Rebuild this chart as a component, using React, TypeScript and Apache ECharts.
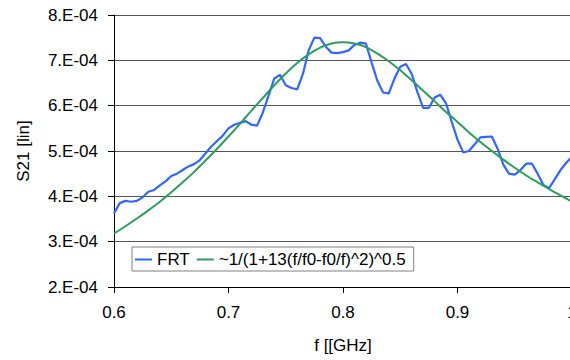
import React, { useEffect, useRef } from 'react';
import * as echarts from 'echarts';

// x sample grid (GHz)
const X_START = 0.6;
const FRT_STEP = 0.005;
const FIT_STEP = 0.01;

// S21 values, in units of 1e-4
const frtValues = [
  3.62, 3.85, 3.9, 3.88, 3.9, 3.98, 4.1, 4.14, 4.24, 4.33,
  4.45, 4.5, 4.58, 4.66, 4.71, 4.8, 4.95, 5.1, 5.22, 5.34,
  5.5, 5.58, 5.62, 5.66, 5.58, 5.56, 5.85, 6.22, 6.6, 6.68,
  6.45, 6.39, 6.36, 6.7, 7.22, 7.5, 7.49, 7.3, 7.17, 7.16,
  7.18, 7.22, 7.34, 7.39, 7.37, 6.95, 6.55, 6.29, 6.27, 6.6,
  6.86, 6.92, 6.7, 6.3, 5.95, 5.95, 6.18, 6.24, 6.05, 5.64,
  5.25, 4.97, 5.0, 5.15, 5.3, 5.31, 5.32, 5.05, 4.7, 4.5,
  4.48, 4.58, 4.72, 4.72, 4.5, 4.25, 4.18, 4.38, 4.58, 4.74,
  4.87,
];

const fitValues = [
  3.18, 3.34, 3.51, 3.69, 3.88, 4.09, 4.31, 4.54, 4.79, 5.05,
  5.32, 5.6, 5.89, 6.17, 6.45, 6.71, 6.94, 7.13, 7.28, 7.37,
  7.4, 7.37, 7.29, 7.15, 6.98, 6.78, 6.56, 6.33, 6.1, 5.86,
  5.64, 5.41, 5.2, 5.0, 4.81, 4.63, 4.46, 4.31, 4.16, 4.02,
  3.88,
];

const xTickLabels = ['0.6', '0.7', '0.8', '0.9', '1'];
const yTickLabels = ['2.E-04', '3.E-04', '4.E-04', '5.E-04', '6.E-04', '7.E-04', '8.E-04'];
const seriesNames = ['FRT', '~1/(1+13(f/f0-f0/f)^2)^0.5'];

const FONT = 'Liberation Sans, Arial, sans-serif';

export default function App() {
  const ref = useRef<HTMLDivElement>(null);

  useEffect(() => {
    const chart = echarts.init(ref.current!, null, { renderer: 'svg' });
    const frt = frtValues.map((v, i) => [+(X_START + i * FRT_STEP).toFixed(4), v]);
    const fit = fitValues.map((v, i) => [+(X_START + i * FIT_STEP).toFixed(4), v]);

    chart.setOption({
      animation: false,
      backgroundColor: '#ffffff',
      textStyle: { fontFamily: FONT, color: '#000' },
      grid: {
        left: 114,
        top: 15,
        right: -2,
        bottom: 73,
        containLabel: false,
        outerBoundsMode: 'none',
      },
      legend: {
        left: 132,
        top: 247,
        orient: 'horizontal',
        icon: 'rect',
        itemWidth: 17,
        itemHeight: 2,
        itemGap: 7,
        padding: [4, 8, 3, 3],
        borderColor: '#808080',
        borderWidth: 1,
        backgroundColor: '#ffffff',
        textStyle: { fontFamily: FONT, fontSize: 17, color: '#000' },
        data: seriesNames,
      },
      xAxis: {
        type: 'value',
        min: 0.6,
        max: 1.0,
        interval: 0.1,
        name: 'f [[GHz]',
        nameLocation: 'middle',
        nameGap: 50,
        nameTextStyle: { fontFamily: FONT, fontSize: 17, color: '#000' },
        axisLine: { show: true, lineStyle: { color: '#000', width: 1 } },
        axisTick: { show: true, length: 6, lineStyle: { color: '#000' } },
        axisLabel: {
          margin: 17,
          fontFamily: FONT,
          fontSize: 17,
          color: '#000',
          showMinLabel: true,
          showMaxLabel: true,
          formatter: (v: number) => xTickLabels[Math.round((v - 0.6) / 0.1)] ?? '',
        },
        splitLine: { show: false },
      },
      yAxis: {
        type: 'value',
        min: 2,
        max: 8,
        interval: 1,
        name: 'S21 [lin]',
        nameLocation: 'middle',
        nameRotate: 90,
        nameGap: 82,
        nameTextStyle: { fontFamily: FONT, fontSize: 17, color: '#000' },
        axisLine: { show: true, lineStyle: { color: '#000', width: 1 } },
        axisTick: { show: true, length: 6, lineStyle: { color: '#000' } },
        axisLabel: {
          margin: 16,
          fontFamily: FONT,
          fontSize: 17,
          color: '#000',
          formatter: (v: number) => yTickLabels[Math.round(v - 2)] ?? '',
        },
        splitLine: { show: true, lineStyle: { color: '#555', width: 1 } },
      },
      series: [
        {
          name: seriesNames[0],
          type: 'line',
          data: frt,
          showSymbol: false,
          lineStyle: { color: '#3366FF', width: 2.2 },
          itemStyle: { color: '#3366FF' },
          z: 2,
        },
        {
          name: seriesNames[1],
          type: 'line',
          data: fit,
          smooth: 0.3,
          showSymbol: false,
          lineStyle: { color: '#2E9B5F', width: 2 },
          itemStyle: { color: '#2E9B5F' },
          z: 3,
        },
      ],
    });

    return () => chart.dispose();
  }, []);

  return (
    <div
      ref={ref}
      style={{ position: 'fixed', left: 0, top: 0, width: 570, height: 360, background: '#fff' }}
    />
  );
}
